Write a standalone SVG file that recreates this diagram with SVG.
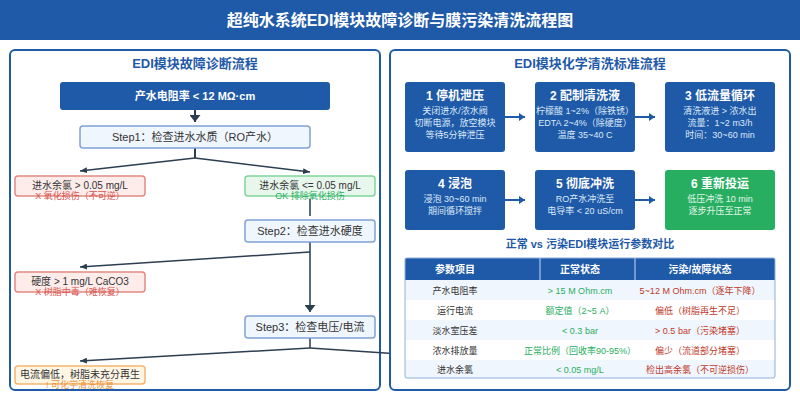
<svg xmlns="http://www.w3.org/2000/svg" width="800" height="400" viewBox="0 0 800 400">
<defs>
<marker id="a" markerUnits="userSpaceOnUse" markerWidth="7" markerHeight="6" refX="7" refY="3" orient="auto"><path d="M0 0L7 3L0 6Z" fill="#2c3e50"/></marker>
<marker id="w" markerUnits="userSpaceOnUse" markerWidth="7" markerHeight="11" refX="7" refY="5.5" orient="auto"><path d="M0 0L7 5.5L0 11Z" fill="#2c3e50"/></marker>
<marker id="b" markerUnits="userSpaceOnUse" markerWidth="6" markerHeight="8" refX="6" refY="4" orient="auto"><path d="M0 0L6 4L0 8Z" fill="#1f5aa8"/></marker>
</defs>
<style>
text{font-family:"Liberation Sans","Noto Sans CJK SC",sans-serif;text-anchor:middle}
.panel{fill:#fff;stroke:#1f5aa8;stroke-width:2}
.h{font-size:13px;font-weight:bold;fill:#1f5aa8}
.step{fill:#f0f6fd;stroke:#7fa3d6;stroke-width:1.5}
.st{font-size:11px;fill:#333}
.red{fill:#fdecea;stroke:#e08a82;stroke-width:1.5}
.grn{fill:#e8f7ec;stroke:#7fd69b;stroke-width:1.5}
.org{fill:#fff6e6;stroke:#f5b56e;stroke-width:1.5}
.bt{font-size:10px;fill:#333}
.sub{font-size:9px}
.c{fill:#1f5aa8}
.g{fill:#27ae60}
.t1{font-size:12px;font-weight:bold;fill:#fff}
.t2{font-size:9px;fill:#dce9f8}
.t3{font-size:9px;fill:#e3f6ea}
.l{fill:none;stroke:#2c3e50;stroke-width:1.5}
.s{fill:none;stroke:#2c3e50;stroke-width:2}
.lg{fill:none;stroke:#5a6b7d;stroke-width:2}
.ar{stroke:#1f5aa8;stroke-width:2;fill:none;marker-end:url(#b)}
.th{font-size:10px;font-weight:bold;fill:#fff}
.td{font-size:9px;fill:#333}
.ok{font-size:9px;fill:#27ae60}
.bad{font-size:9px;fill:#c0392b}
</style>
<rect width="800" height="400" fill="#fff"/>
<rect id="header" width="800" height="40" fill="#1f5aa8"/>
<text x="400" y="26" font-size="16" font-weight="bold" fill="#fff">超纯水系统EDI模块故障诊断与膜污染清洗流程图</text>

<rect x="10" y="50" width="370" height="340" rx="5" class="panel"/>
<text x="195" y="68" class="h">EDI模块故障诊断流程</text>

<g id="connectors-left">
<path class="s" d="M195 110V122" marker-end="url(#w)"/>
<path class="s" d="M195 148V158"/>
<path class="l" d="M195 158L80 171" marker-end="url(#a)"/>
<path class="l" d="M195 158L310 172" marker-end="url(#a)"/>
<path class="lg" d="M310 199V216"/>
<path class="lg" d="M310 242V312" marker-end="url(#w)"/>
<path class="l" d="M310 252L80 267" marker-end="url(#a)"/>
<path class="lg" d="M310 338V348"/>
<path class="l" d="M310 348L80 361" marker-end="url(#a)"/>
<path class="l" d="M310 348L400 354"/>
</g>

<g id="n-start"><rect x="60" y="82" width="270" height="28" rx="3" fill="#1f5aa8"/><text x="195" y="100" font-size="11" font-weight="bold" fill="#fff">产水电阻率 &lt; 12 MΩ·cm</text></g>
<g id="n-step1"><rect x="80" y="126" width="230" height="22" rx="3" class="step"/><text x="195" y="141" class="st">Step1：检查进水水质（RO产水）</text></g>
<g id="n-cl-high"><rect x="15" y="176" width="130" height="20" rx="3" class="red"/><text x="80" y="189" class="bt">进水余氯 &gt; 0.05 mg/L</text><text x="80" y="199" class="sub" fill="#d9534f">X 氧化损伤（不可逆）</text></g>
<g id="n-cl-ok"><rect x="245" y="176" width="130" height="20" rx="3" class="grn"/><text x="310" y="189" class="bt">进水余氯 &lt;= 0.05 mg/L</text><text x="310" y="199" class="sub" fill="#27ae60">OK 排除氧化损伤</text></g>
<g id="n-step2"><rect x="245" y="220" width="130" height="22" rx="3" class="step"/><text x="310" y="235" class="st">Step2：检查进水硬度</text></g>
<g id="n-hard"><rect x="15" y="272" width="130" height="20" rx="3" class="red"/><text x="80" y="285" class="bt">硬度 &gt; 1 mg/L CaCO3</text><text x="80" y="295" class="sub" fill="#d9534f">X 树脂中毒（难恢复）</text></g>
<g id="n-step3"><rect x="245" y="316" width="130" height="22" rx="3" class="step"/><text x="310" y="331" class="st">Step3：检查电压/电流</text></g>
<g id="n-current"><rect x="15" y="366" width="130" height="18" rx="3" class="org"/><text x="80" y="378" class="bt">电流偏低，树脂未充分再生</text><text x="80" y="388" class="sub" fill="#f0913a">! 可化学清洗恢复</text></g>

<rect x="390" y="50" width="400" height="340" rx="5" class="panel"/>
<text x="590" y="68" class="h">EDI模块化学清洗标准流程</text>

<g id="connectors-right">
<path class="ar" d="M505 117H525"/><path class="ar" d="M635 117H655"/>
<path class="ar" d="M505 200H525"/><path class="ar" d="M635 200H655"/>
</g>

<g id="s1"><rect x="405" y="82" width="100" height="70" rx="3" class="c"/><text x="455" y="100" class="t1">1 停机泄压</text><text x="455" y="114" class="t2">关闭进水/浓水阀</text><text x="455" y="126" class="t2">切断电源，放空模块</text><text x="455" y="138" class="t2">等待5分钟泄压</text></g>
<g id="s2"><rect x="535" y="82" width="100" height="70" rx="3" class="c"/><text x="585" y="100" class="t1">2 配制清洗液</text><text x="585" y="114" class="t2">柠檬酸 1~2%（除铁锈）</text><text x="585" y="126" class="t2">EDTA 2~4%（除硬度）</text><text x="585" y="138" class="t2">温度 35~40 C</text></g>
<g id="s3"><rect x="665" y="82" width="110" height="70" rx="3" class="c"/><text x="720" y="100" class="t1">3 低流量循环</text><text x="720" y="114" class="t2">清洗液进 &gt; 浓水出</text><text x="720" y="126" class="t2">流量：1~2 m3/h</text><text x="720" y="138" class="t2">时间：30~60 min</text></g>
<g id="s4"><rect x="405" y="170" width="100" height="60" rx="3" class="c"/><text x="455" y="188" class="t1">4 浸泡</text><text x="455" y="202" class="t2">浸泡 30~60 min</text><text x="455" y="214" class="t2">期间循环搅拌</text></g>
<g id="s5"><rect x="535" y="170" width="100" height="60" rx="3" class="c"/><text x="585" y="188" class="t1">5 彻底冲洗</text><text x="585" y="202" class="t2">RO产水冲洗至</text><text x="585" y="214" class="t2">电导率 &lt; 20 uS/cm</text></g>
<g id="s6"><rect x="665" y="170" width="110" height="60" rx="3" class="g"/><text x="720" y="188" class="t1">6 重新投运</text><text x="720" y="202" class="t3">低压冲洗 10 min</text><text x="720" y="214" class="t3">逐步升压至正常</text></g>

<text x="590" y="248" font-size="11" font-weight="bold" fill="#1f5aa8">正常 vs 污染EDI模块运行参数对比</text>

<g id="table">
<rect x="405" y="258" width="370" height="120" rx="2" fill="#fff"/>
<rect x="405" y="280" width="370" height="20" fill="#f0f6fd"/>
<rect x="405" y="320" width="370" height="20" fill="#f0f6fd"/>
<rect x="405" y="360" width="370" height="18" fill="#f0f6fd"/>
<rect x="405" y="258" width="370" height="22" fill="#1f5aa8"/>
<path d="M540 258V280M635 258V280" stroke="#8fb0dd" stroke-width="1.5"/>
<rect x="405" y="258" width="370" height="120" rx="2" fill="none" stroke="#8fb0dd"/>
<text x="455" y="273" class="th">参数项目</text><text x="580" y="273" class="th">正常状态</text><text x="700" y="273" class="th">污染/故障状态</text>
<text x="455" y="294" class="td">产水电阻率</text><text x="580" y="294" class="ok">&gt; 15 M Ohm.cm</text><text x="700" y="294" class="bad">5~12 M Ohm.cm（逐年下降）</text>
<text x="455" y="314" class="td">运行电流</text><text x="580" y="314" class="ok">额定值（2~5 A）</text><text x="700" y="314" class="bad">偏低（树脂再生不足）</text>
<text x="455" y="334" class="td">淡水室压差</text><text x="580" y="334" class="ok">&lt; 0.3 bar</text><text x="700" y="334" class="bad">&gt; 0.5 bar（污染堵塞）</text>
<text x="455" y="354" class="td">浓水排放量</text><text x="580" y="354" class="ok">正常比例（回收率90-95%）</text><text x="700" y="354" class="bad">偏少（流道部分堵塞）</text>
<text x="455" y="373" class="td">进水余氯</text><text x="580" y="373" class="ok">&lt; 0.05 mg/L</text><text x="700" y="373" class="bad">检出高余氯（不可逆损伤）</text>
</g>
</svg>
